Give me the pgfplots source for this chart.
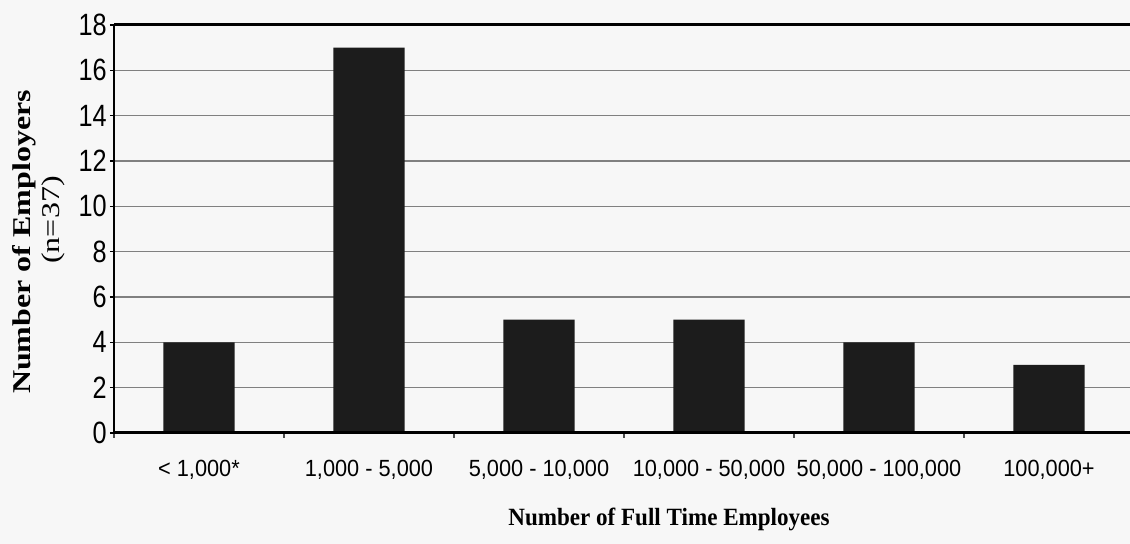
\documentclass[border=0pt]{standalone}
\usepackage{fontspec}
\usepackage{pgfplots}
\pgfplotsset{compat=1.18}
\setmainfont{Liberation Serif}
\newfontfamily\ytickfont[FakeStretch=0.82]{Liberation Sans}
\newfontfamily\xtickfont[FakeStretch=0.93]{Liberation Sans}
\newfontfamily\xlabfont[FakeStretch=0.93]{Liberation Serif}
\definecolor{barc}{HTML}{1c1c1c}
\definecolor{gridc}{HTML}{808080}
\definecolor{paper}{HTML}{f7f7f7}

\begin{document}
\begin{tikzpicture}
\fill[paper] (-57pt,-55.5pt) rectangle (508pt,216.5pt);
\begin{axis}[
  at={(0,0)}, anchor=south west,
  scale only axis, width=510pt, height=204pt,
  xmin=-0.5, xmax=5.5, ymin=0, ymax=18,
  clip=false,
  axis line style={draw=none},
  ytick={0,2,...,18},
  xtick={0,...,5},
  xticklabels={{< 1,000*},{1,000 - 5,000},{5,000 - 10,000},{10,000 - 50,000},{50,000 - 100,000},{100,000+}},
  minor xtick={-0.5,0.5,1.5,2.5,3.5,4.5,5.5},
  tick pos=left, tick align=outside,
  major tick length=2pt, minor tick length=2.5pt,
  major x tick style={draw=none},
  minor x tick style={black!70, line width=0.6pt},
  y tick style={black, line width=0.6pt},
  ymajorgrids, major grid style={gridc, line width=0.7pt},
  /pgf/number format/assume math mode=true,
  yticklabel style={font=\ytickfont\fontsize{15.4}{16}\selectfont, anchor=east, inner sep=0pt, xshift=-1.5pt},
  xticklabel style={font=\xtickfont\fontsize{11.7}{13}\selectfont, anchor=base, inner sep=0pt, yshift=-20pt},
]
\addplot[ybar, bar width=35.5pt, fill=barc, draw=none] coordinates {
  (0,4) (1,17) (2,5) (3,5) (4,4) (5,3)
};
\draw[black, line width=1.5pt] (rel axis cs:0,1) -- (rel axis cs:1,1);
\draw[black, line width=1.5pt] (rel axis cs:0,0) -- (rel axis cs:1,0);
\draw[black, line width=1pt] (rel axis cs:0,0) -- (rel axis cs:0,1);
\end{axis}
\node[font=\xlabfont\bfseries\fontsize{12.4}{14}\selectfont, anchor=base] at (277.5pt,-46.5pt) {Number of Full Time Employees};
\begin{scope}[shift={(-45pt,95.5pt)}, xscale=0.8]
  \node[rotate=90, transform shape, font=\bfseries\fontsize{16}{18}\selectfont] at (0,0) {Number of Employers};
\end{scope}
\begin{scope}[shift={(-30.5pt,106.5pt)}, xscale=0.8]
  \node[rotate=90, transform shape, font=\fontsize{16}{18}\selectfont] at (0,0) {(n=37)};
\end{scope}
\pgfresetboundingbox
\path[use as bounding box] (-57pt,-55.5pt) rectangle (508pt,216.5pt);
\end{tikzpicture}
\end{document}
